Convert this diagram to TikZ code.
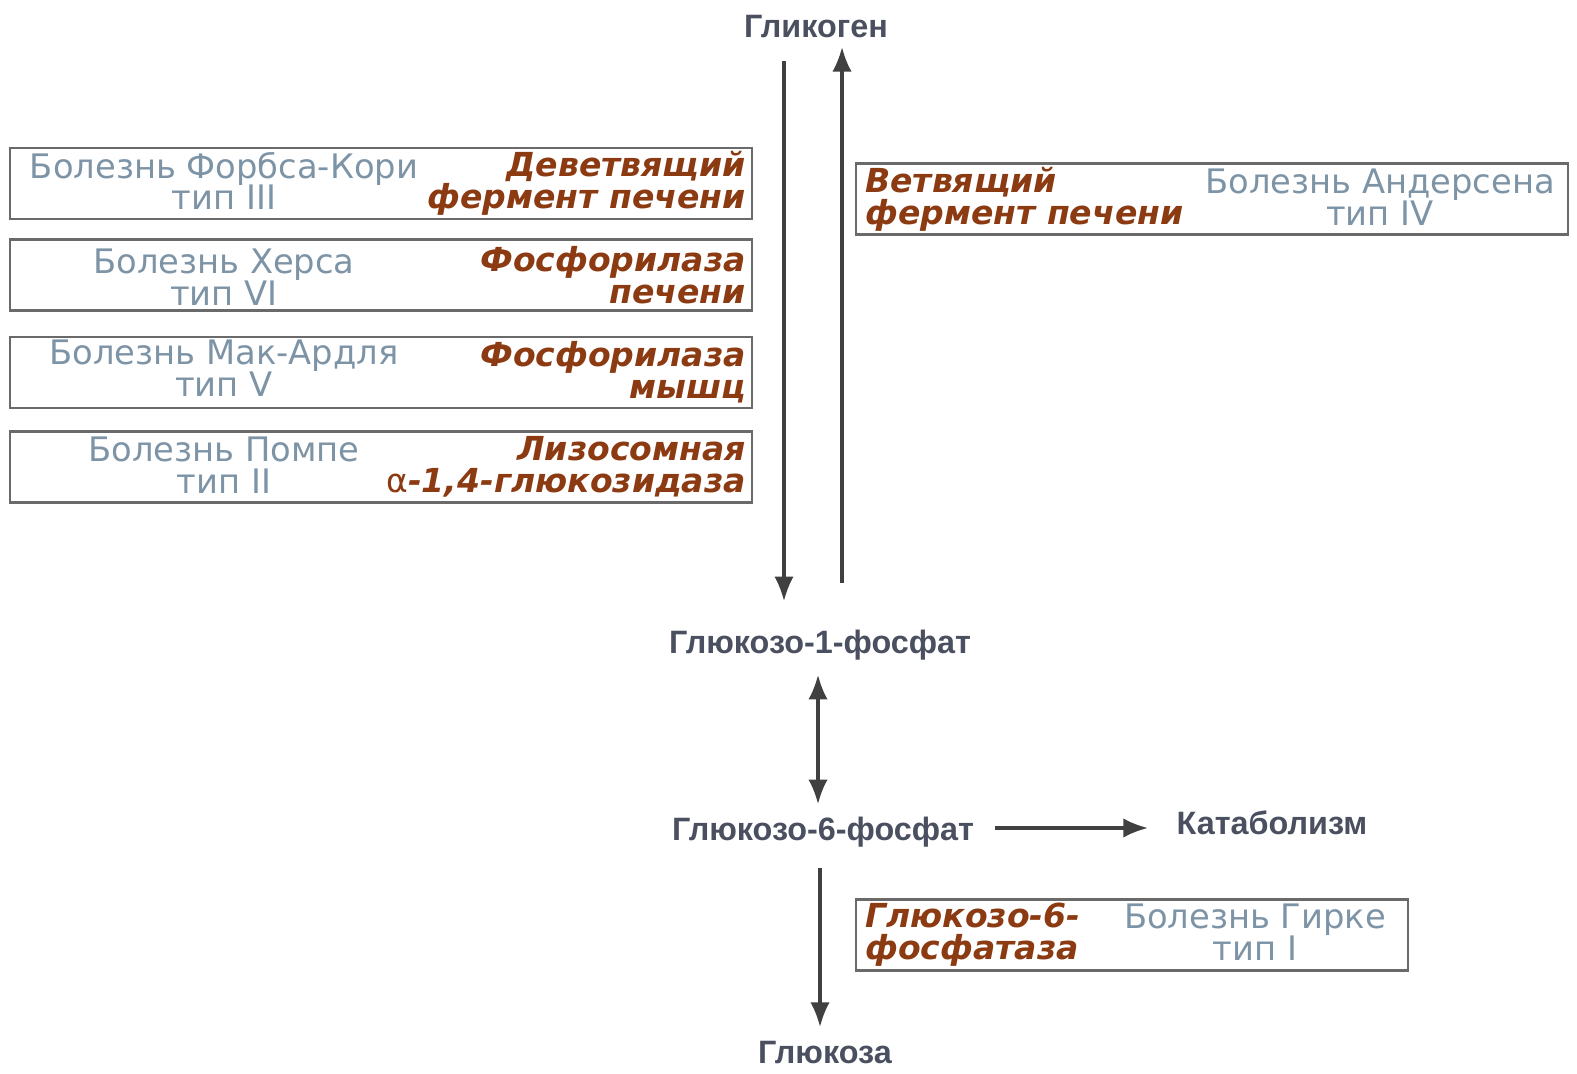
\documentclass[tikz,border=0pt]{standalone}
\usepackage{fontspec}
\setmainfont{DejaVu Sans}
\newfontfamily\lblfont{Liberation Sans}
\usetikzlibrary{arrows.meta,positioning}
\definecolor{lbltext}{HTML}{4A5060}
\definecolor{distext}{HTML}{7D93A6}
\definecolor{enztext}{HTML}{8B3A12}
\definecolor{boxgray}{HTML}{6A6A6A}

\begin{document}
\begin{tikzpicture}[x=0.01cm,y=-0.01cm]
	  \tikzstyle{metab}=[font=\lblfont\bfseries\fontsize{9.2}{10}\selectfont,text=lbltext,inner sep=0pt]
	  \tikzstyle{frame}=[draw=boxgray,line width=0.7pt,minimum height=0.71cm,inner sep=0pt]
	  \tikzstyle{disease}=[font=\fontsize{9.6}{9}\selectfont,text=distext,align=center,inner sep=0pt]
	  \tikzstyle{enzyme}=[font=\bfseries\itshape\fontsize{9.4}{9}\selectfont,text=enztext,inner sep=0pt]
	  \tikzstyle{flow}=[draw=black!75,line width=0.9pt,-{Latex[length=7pt,width=5.5pt]}]

		\useasboundingbox (0,0) rectangle (1577,1074);

		% metabolites
		\node[metab] (glik) at (816,27) {Гликоген};
		\node[metab] (g1p) at (820,645) {Глюкозо-1-фосфат};
		\node[metab] (g6p) at (823,832) {Глюкозо-6-фосфат};
		\node[metab] (catab) at (1272,823) {Катаболизм};
		\node[metab] (gluc) at (825,1053) {Глюкоза};

		% left boxes
		\node[frame,minimum width=7.42cm] (fk) at (381,183.5) {};
		\node[disease] (fkd) at (224,181) {Болезнь Форбса-Кори\\тип III};
		\node[enzyme,align=right,anchor=east] (fke) at ([xshift=-.07cm]fk.east) {Деветвящий\\фермент печени};

		\node[frame,minimum width=7.42cm] (hers) at (381,275) {};
		\node[disease] (hersd) at (224,277) {Болезнь Херса\\тип VI};
		\node[enzyme,align=right,anchor=east] (herse) at ([xshift=-.07cm]hers.east) {Фосфорилаза\\печени};

		\node[frame,minimum width=7.42cm] (mca) at (381,372.5) {};
		\node[disease] (mcad) at (224,368) {Болезнь Мак-Ардля\\тип V};
		\node[enzyme,align=right,anchor=east] (mcae) at ([xshift=-.07cm]mca.east) {Фосфорилаза\\мышц};

		\node[frame,minimum width=7.42cm] (pom) at (381,467) {};
		\node[disease] (pomd) at (224,465) {Болезнь Помпе\\тип II};
		\node[enzyme,align=right,anchor=east] (pome) at ([xshift=-.07cm]pom.east) {Лизосомная\\{\upshape\mdseries α}-1,4-глюкозидаза};

		% right boxes
		\node[frame,minimum width=7.12cm] (and) at (1212,199) {};
		\node[enzyme,align=left,anchor=west] (ande) at ([xshift=.1cm]and.west) {Ветвящий\\фермент печени};
		\node[disease] (andd) at (1380,197) {Болезнь Андерсена\\тип IV};

		\node[frame,minimum width=5.52cm] (gir) at (1132,935) {};
		\node[enzyme,align=left,anchor=west] (gire) at ([xshift=.1cm]gir.west) {Глюкозо-6-\\фосфатаза};
		\node[disease] (gird) at (1255,932) {Болезнь Гирке\\тип I};

		% arrows
		\draw[flow,shorten <=.22cm,shorten >=.28cm] ([xshift=-.32cm]glik.south) -- ([xshift=-.32cm]glik.south |- g1p.north);
		\draw[flow,shorten <=.46cm,shorten >=.08cm] ([xshift=.26cm]glik.south |- g1p.north) -- ([xshift=.26cm]glik.south);
		\draw[flow,{Latex[length=7pt,width=5.5pt]}-{Latex[length=7pt,width=5.5pt]},shorten <=.14cm,shorten >=.12cm] ([xshift=-.02cm]g1p.south) -- ([xshift=-.02cm]g1p.south |- g6p.north);
		\draw[flow,shorten <=.2cm,shorten >=.28cm] ([yshift=.04cm]g6p.east) -- ([yshift=.04cm]g6p.east -| catab.west);
		\draw[flow,shorten <=.2cm,shorten >=.14cm] ([xshift=-.03cm]g6p.south) -- ([xshift=-.03cm]g6p.south |- gluc.north);
\end{tikzpicture}
\end{document}
